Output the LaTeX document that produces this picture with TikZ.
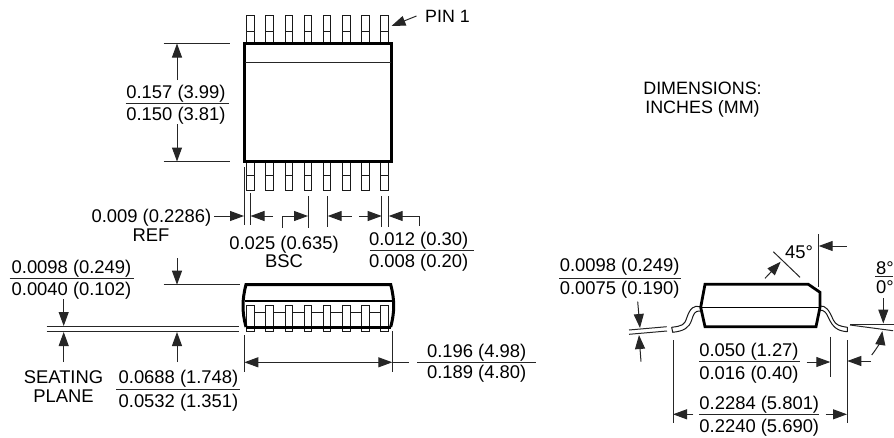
\documentclass[tikz,border=0pt]{standalone}
\usepackage{fontspec}
\setmainfont{Liberation Sans}
\usetikzlibrary{arrows.meta}
\tikzset{
  thin line/.style={line width=1pt,draw=black!85},
  dim/.style={thin line,-{Triangle[length=14pt,width=10pt]}},
  lbl/.style={inner sep=0pt,font=\fontsize{18.4}{22}\selectfont,text height=13.2pt,text depth=0pt,text=black},
  bodyline/.style={line width=2.2pt,draw=black,line join=miter},
  pinline/.style={line width=1pt,draw=black!90,fill=white},
}
\begin{document}
\begin{tikzpicture}[x=1pt,y=-1pt]
\useasboundingbox (0,0) rectangle (894,437);
% ---- top view
\foreach \i in {0,...,7}{
  \pgfmathsetmacro{\xa}{246.7+19.17*\i}
  \pgfmathsetmacro{\xb}{\xa+7.6}
  \draw[pinline] (\xa,15.7) rectangle (\xb,43.5);
  \draw[pinline] (\xa,31) -- (\xb,31);
  \draw[pinline] (\xa,161.5) rectangle (\xb,190);
  \draw[pinline] (\xa,175) -- (\xb,175);
}
\node[bodyline,draw,fill=white,minimum width=147pt,minimum height=118pt,inner sep=0pt,outer sep=0pt,anchor=north west] (topbody) at (244.5,43.5) {};
\draw[thin line] (245,62) -- (391,62);
\coordinate (pintail) at (416.5,16);
\coordinate (pintip) at (391.5,26);
\draw[dim] (pintail) -- (pintip);
\node[lbl,anchor=west,font=\fontsize{17.8}{22}\selectfont] (pin1) at (425,16) {PIN 1};
\node[lbl,font=\fontsize{17.9}{22}\selectfont] (dim1) at (702.5,87.7) {DIMENSIONS:};
\node[lbl,font=\fontsize{17.9}{22}\selectfont] (dim2) at (702.5,106.7) {INCHES (MM)};
% height
\draw[thin line] (163.5,43.5) -- (229.5,43.5);
\draw[thin line] (163.5,161.5) -- (229.5,161.5);
\draw[dim] (177,80) -- (177,43.5);
\draw[dim] (177,124) -- (177,161.5);
\node[lbl] (h1) at (176,92) {0.157 (3.99)};
\draw[thin line] (125.5,103) -- (229,103);
\node[lbl] (h2) at (176,114) {0.150 (3.81)};
% pitch dims
\draw[thin line] (244,167) -- (244,225);
\draw[thin line] (250.5,193) -- (250.5,225);
\draw[thin line] (308,196) -- (308,228);
\draw[thin line] (327.7,196) -- (327.7,227);
\draw[thin line] (381.7,196) -- (381.7,227);
\draw[thin line] (388.7,196) -- (388.7,227);
\draw[dim] (214,216) -- (244,216);
\draw[dim] (273,216) -- (250.5,216);
\draw[dim] (282,228) -- (282,216) -- (308,216);
\draw[dim] (351.5,216) -- (327.7,216);
\draw[dim] (359,216) -- (381.7,216);
\draw[dim] (419.5,226) -- (419.5,216) -- (388.7,216);
\node[lbl,anchor=east] (ref1) at (211.5,216) {0.009 (0.2286)};
\node[lbl] (ref2) at (151,235) {REF};
\node[lbl] (bsc1) at (284,243) {0.025 (0.635)};
\node[lbl] (bsc2) at (284,261) {BSC};
\node[lbl] (w1) at (418.7,239) {0.012 (0.30)};
\draw[thin line] (370,250.7) -- (473.7,250.7);
\node[lbl] (w2) at (418.7,261) {0.008 (0.20)};
% ---- side view
\foreach \i in {0,...,7}{
  \pgfmathsetmacro{\xa}{246.7+19.17*\i}
  \pgfmathsetmacro{\xb}{\xa+7.6}
  \ifnum\i<7
    \pgfmathsetmacro{\xc}{\xb+11.57}
    \draw[pinline] (\xb,312.3) -- (\xc,312.3);
  \fi
  \draw[pinline] (\xa,305) rectangle (\xb,331.7);
}
\draw[line width=3pt,line join=miter] (246,327) -- (390.7,327);
\draw[line width=1.5pt] (245,301) -- (392,301);
\draw[line width=3pt,line join=miter] (246,327) .. controls (242,312) and (242,300) .. (246,284.5) -- (390.7,284.5) .. controls (394.7,300) and (394.7,312) .. (390.7,327);
\draw[thin line] (163.5,284.7) -- (240,284.7);
\draw[thin line] (46.5,326.5) -- (239,326.5);
\draw[thin line] (46.5,331.7) -- (239,331.7);
\draw[dim] (63.7,299) -- (63.7,326);
\draw[dim] (63.7,362) -- (63.7,332);
\draw[dim] (177,258) -- (177,284.7);
\draw[dim] (177,362) -- (177,332);
\node[lbl] (l1) at (71.5,266.7) {0.0098 (0.249)};
\draw[thin line] (9.5,278.7) -- (134,278.7);
\node[lbl] (l2) at (71.5,289) {0.0040 (0.102)};
\node[lbl] (s1) at (63.5,376.7) {SEATING};
\node[lbl] (s2) at (63.5,395.7) {PLANE};
\node[lbl] (m1) at (178.5,377) {0.0688 (1.748)};
\draw[thin line] (116,389.3) -- (240,389.3);
\node[lbl] (m2) at (178.5,400.7) {0.0532 (1.351)};
% length
\draw[thin line] (244.3,335) -- (244.3,371.7);
\draw[thin line] (392.3,331) -- (392.3,371.7);
\draw[thin line,{Triangle[length=14pt,width=10pt]}-{Triangle[length=14pt,width=10pt]}] (244.3,362.3) -- (392.3,362.3);
\draw[thin line] (392.3,362.3) -- (409,362.3);
\node[lbl] (n1) at (476.7,350.7) {0.196 (4.98)};
\draw[thin line] (417.3,362.3) -- (536,362.3);
\node[lbl] (n2) at (476.7,372.3) {0.189 (4.80)};
% ---- end view
\draw[pinline,line join=round] (700,306.7) .. controls (694,305) and (690,308) .. (686.7,318) .. controls (684.5,325) and (682,326) .. (671.7,327.3) -- (672.7,332.3) .. controls (684,331) and (689,328) .. (691.7,320) .. controls (693.5,314) and (695,310.5) .. (700,311);
\draw[pinline,line join=round] (820,306) .. controls (826,305.5) and (829,310) .. (833.3,320) .. controls (836,325) and (839,326) .. (847.3,327.3) -- (847.3,331.7) .. controls (838,331) and (833,328) .. (828.3,317.3) .. controls (826,312) and (824,310) .. (819,310);
\draw[line width=1.4pt] (700.7,307.3) -- (820,307.3);
\draw[line width=2.8pt,line join=miter] (705,284.3) -- (808.3,284.3) -- (820,292.3) -- (820,307.3) -- (816,326.7) -- (705,326.7) -- (700.7,307.3) -- cycle;
\node[lbl] (e1) at (619.7,265) {0.0098 (0.249)};
\draw[thin line] (559,278) -- (681,278);
\node[lbl] (e2) at (619.7,288) {0.0075 (0.190)};
\draw[thin line] (629,330) -- (666.7,326.7);
\draw[thin line] (629,334.3) -- (667,331);
\draw[dim] (637.7,301.7) -- (640,328);
\draw[dim] (641,361.7) -- (639,335);
\draw[thin line] (773.3,251.7) -- (800,277.3);
\draw[dim] (765,278.3) -- (780.7,261.7);
\node[lbl] (a45) at (799,251.7) {45°};
\draw[thin line] (818.7,234.3) -- (818.7,286.7);
\draw[dim] (846.7,246) -- (818.7,246);
\node[lbl] (d8) at (885,267.7) {8°};
\draw[thin line] (875,276.7) -- (893,276.7);
\node[lbl] (d0) at (885,286.7) {0°};
\draw[dim] (883.3,298) -- (883.3,323.5);
\draw[thin line] (850,324.3) -- (894,324.3);
\draw[thin line] (850,325) -- (893,330.7);
\draw[dim] (871.7,355) .. controls (878,347) and (881,340) .. (882.3,331);
\draw[dim] (871,361) -- (847.3,361);
\draw[thin line] (830.3,336.7) -- (830.3,377.3);
\draw[thin line] (847,340) -- (847,422.7);
\draw[thin line] (673,340) -- (673,422.7);
\draw[dim] (806.7,362) -- (830.3,362);
\node[lbl] (f1) at (749,350) {0.050 (1.27)};
\draw[thin line] (699,361.7) -- (799.5,361.7);
\node[lbl] (f2) at (749,373.3) {0.016 (0.40)};
\node[lbl] (g1) at (759.3,402.7) {0.2284 (5.801)};
\draw[thin line] (699,414.3) -- (819,414.3);
\node[lbl] (g2) at (759.3,425.7) {0.2240 (5.690)};
\draw[dim] (693.3,414.3) -- (673,414.3);
\draw[dim] (825.7,414.3) -- (847,414.3);
\end{tikzpicture}
\end{document}
